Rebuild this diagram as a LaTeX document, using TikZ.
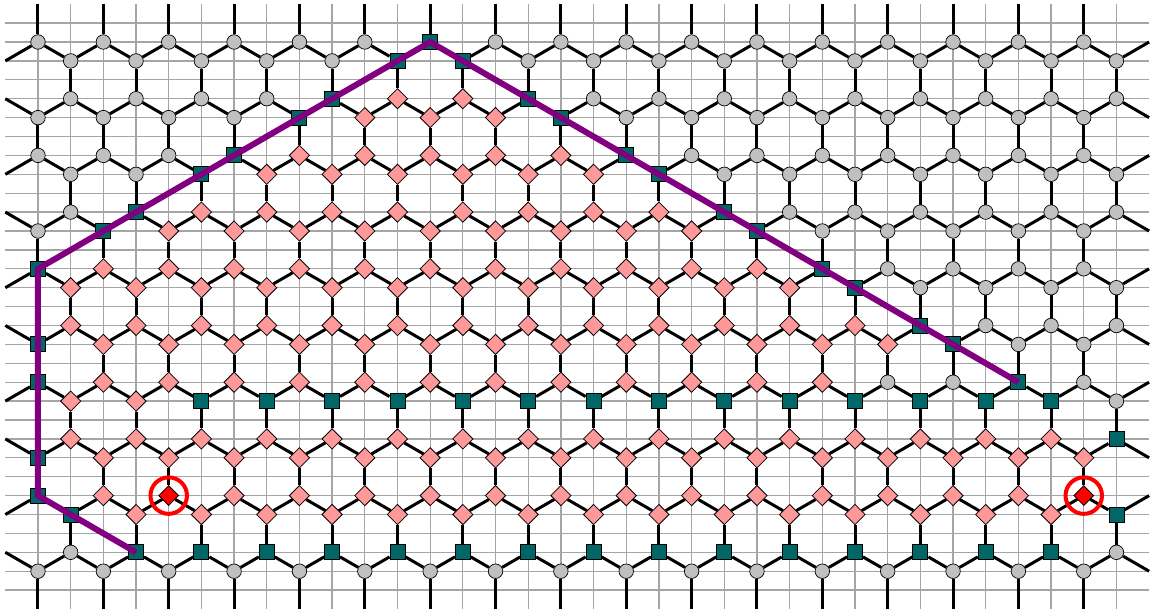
\documentclass[tikz,border=0pt]{standalone}
\usetikzlibrary{shapes.geometric,backgrounds}
\definecolor{tealsq}{RGB}{0,102,102}
\definecolor{pinkd}{RGB}{255,153,153}
\definecolor{grayc}{RGB}{192,192,192}
\definecolor{purp}{RGB}{128,0,128}
\definecolor{gridc}{RGB}{165,165,165}
\begin{document}
\begin{tikzpicture}[x=32.68pt,y=-18.9pt,
  vt0/.style={circle,draw=black,line width=0.7pt,fill=grayc,minimum size=14.5pt,inner sep=0pt},
  vt1/.style={diamond,draw=black,line width=0.8pt,fill=pinkd,minimum size=20.5pt,inner sep=0pt},
  vt2/.style={rectangle,draw=black,line width=0.9pt,fill=tealsq,minimum size=15pt,inner sep=0pt},
  vt3/.style={diamond,draw=black,line width=0.8pt,fill=red,minimum size=20pt,inner sep=0pt},
  edge/.style={line width=3pt,black},
  gridline/.style={line width=1.3pt,gridc},
  purpline/.style={line width=6pt,purp},
  ring/.style={circle,draw=red,line width=4pt,minimum size=36.5pt,inner sep=0pt,fill=none}]
\useasboundingbox (-38pt,42pt) rectangle (1116pt,-572pt);
% dangling coordinates
\foreach \r in {-2,...,30} {\coordinate (dl-\r) at (-1,\r); \coordinate (dr-\r) at (34,\r);}
\foreach \c in {0,...,33} {\coordinate (dt-\c) at (\c,-2); \coordinate (db-\c) at (\c,30);}
% vertices
\foreach \r/\p in {0/0,1/1,3/1,4/0,6/0,7/1,9/1,10/0,12/0,13/1,15/1,16/0,18/0,19/1,21/1,22/0,24/0,25/1,27/1,28/0} {
  \foreach \k in {0,...,16} {
    \pgfmathtruncatemacro{\c}{2*\k+\p}
    \pgfmathtruncatemacro{\isred}{(\r==24)&&((\c==4)||(\c==32))}
    \pgfmathtruncatemacro{\isteal}{((\r<=18)&&(((\c+\r==12)&&(\c<=12))||(\c-\r==12))) || ((\c==0)&&(\r>=12)&&(\r<=24)) || ((\c==1)&&(\r==25)) || ((\r==27)&&(\c>=3)&&(\c<=31)) || ((\r==19)&&(\c>=5)&&(\c<=31)) || ((\c==33)&&((\r==21)||(\r==25)))}
    \pgfmathtruncatemacro{\excl}{(\r==18)&&((\c==26)||(\c==28))}
    \pgfmathtruncatemacro{\ispink}{((\r<=18)&&(\c+\r>12)&&(\c-\r<12)&&(\excl==0)) || ((\r==19)&&(\c<=3)) || ((\r==21)&&(\c<=31)) || ((\r==22)&&(\c>=2)) || ((\r==24)&&(\c>=2)&&(\c<=30)) || ((\r==25)&&(\c>=3)&&(\c<=31))}
    \pgfmathtruncatemacro{\t}{\isred*3+(1-\isred)*(\isteal*2+(1-\isteal)*\ispink)}
    \node[vt\t] (n-\c-\r) at (\c,\r) {};
  }
}
\begin{pgfonlayer}{background}
  \foreach \c in {0,...,33} \draw[gridline] (\c,-2) -- (\c,30);
  \foreach \r in {-1,...,29} \draw[gridline] (-1,\r) -- (34,\r);
  % diagonals from rows with even columns
  \foreach \r in {0,6,12,18,24} {
    \pgfmathtruncatemacro{\rr}{\r+1}
    \foreach \c in {0,2,...,32} {
      \pgfmathtruncatemacro{\cp}{\c+1}
      \pgfmathtruncatemacro{\cm}{\c-1}
      \draw[edge] (n-\c-\r) -- (n-\cp-\rr);
      \ifnum\c>0 \draw[edge] (n-\c-\r) -- (n-\cm-\rr); \fi
    }
    \draw[edge] (n-0-\r) -- (dl-\rr);
    \draw[edge] (n-33-\rr) -- (dr-\r);
  }
  % diagonals from rows with odd columns
  \foreach \r in {3,9,15,21,27} {
    \pgfmathtruncatemacro{\rr}{\r+1}
    \foreach \c in {1,3,...,33} {
      \pgfmathtruncatemacro{\cp}{\c+1}
      \pgfmathtruncatemacro{\cm}{\c-1}
      \draw[edge] (n-\c-\r) -- (n-\cm-\rr);
      \ifnum\c<33 \draw[edge] (n-\c-\r) -- (n-\cp-\rr); \fi
    }
    \draw[edge] (n-33-\r) -- (dr-\rr);
    \draw[edge] (n-0-\rr) -- (dl-\r);
  }
  % vertical edges
  \foreach \r in {1,7,13,19,25} {
    \pgfmathtruncatemacro{\rr}{\r+2}
    \foreach \c in {1,3,...,33} \draw[edge] (n-\c-\r) -- (n-\c-\rr);
  }
  \foreach \r in {4,10,16,22} {
    \pgfmathtruncatemacro{\rr}{\r+2}
    \foreach \c in {0,2,...,32} \draw[edge] (n-\c-\r) -- (n-\c-\rr);
  }
  \foreach \c in {0,2,...,32} {
    \draw[edge] (n-\c-0) -- (dt-\c);
    \draw[edge] (n-\c-28) -- (db-\c);
  }
\end{pgfonlayer}
% purple path
\draw[purpline] (n-3-27.center) -- (n-0-24.center) -- (n-0-12.center) -- (n-12-0.center) -- (n-30-18.center);
% red rings
\node[ring] (ring-a) at (n-4-24) {};
\node[ring] (ring-b) at (n-32-24) {};
\end{tikzpicture}
\end{document}
